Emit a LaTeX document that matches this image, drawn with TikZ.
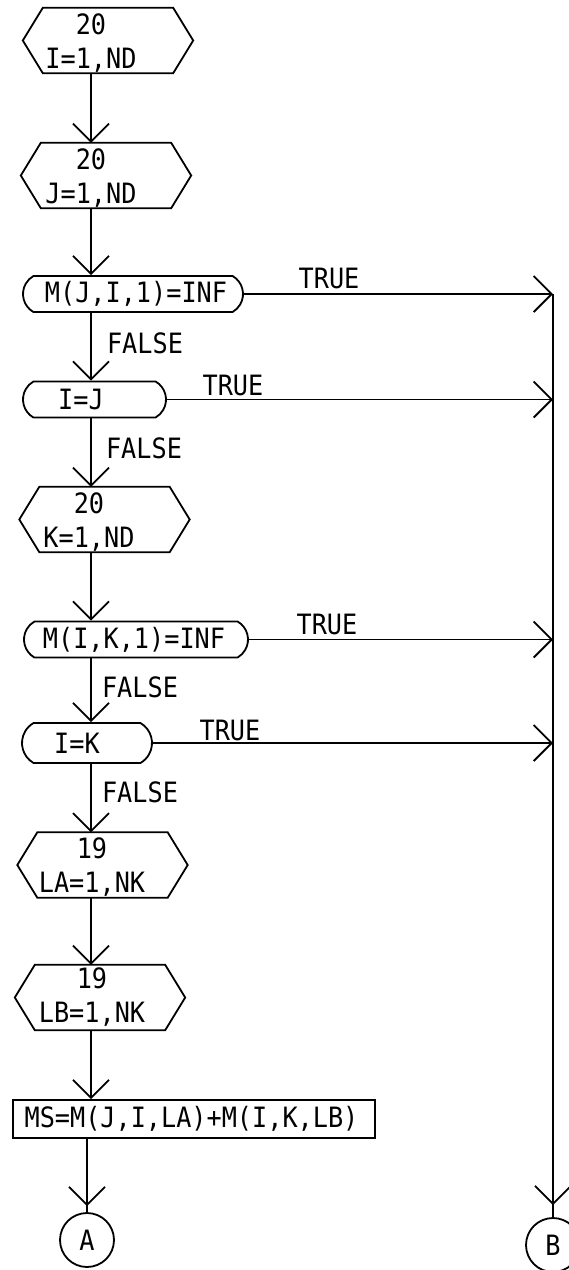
\documentclass[tikz,border=0pt]{standalone}
\usepackage{fontspec}
\newfontfamily\flowfont[FakeStretch=0.9]{DejaVu Sans Mono}
\usetikzlibrary{arrows.meta,shapes.misc}
\tikzset{
  flow/.style={line width=1.8pt, line join=miter},
  arr/.style={flow, -{Straight Barb[length=18pt,width=36pt]}},
  txt/.style={font=\flowfont\fontsize{28}{34}\selectfont, inner sep=0pt, align=center},
  hexbox/.style={minimum width=170pt, minimum height=65pt, inner sep=0pt},
  decbox/.style={flow, draw, rounded rectangle, rounded rectangle arc length=120,
                 minimum height=36pt, inner sep=0pt},
  procbox/.style={flow, draw, rectangle, minimum height=38pt, inner sep=0pt},
  connbox/.style={flow, draw, circle, minimum size=54pt, inner sep=0pt,
                  font=\flowfont\fontsize{28}{34}\selectfont},
}
\begin{document}
\begin{tikzpicture}[x=1pt,y=-1pt]
\useasboundingbox (0,0) rectangle (569,1270);
\fill[white] (0,0) rectangle (569,1270);

% flow axis and the right-hand return column
\coordinate (ax) at (91,0);
\coordinate (col) at (553,0);

% loop headers (hexagons)
\node[hexbox] (h1) at (108,40.5) {};
\node[txt] (h1t) at (91,43) {20\\I=1,ND};
\node[hexbox] (h2) at (106,175.5) {};
\node[txt] (h2t) at (91,178) {20\\J=1,ND};
\node[hexbox] (h3) at (104.5,519.5) {};
\node[txt] (h3t) at (89,522) {20\\K=1,ND};
\node[hexbox] (h5) at (102.5,865) {};
\node[txt] (h5t) at (92,867) {19\\LA=1,NK};
\node[hexbox] (h6) at (100,997.5) {};
\node[txt] (h6t) at (92,997) {19\\LB=1,NK};
\foreach \h in {h1,h2,h3,h5,h6}
  \draw[flow] (\h.west) -- ([xshift=20pt]\h.north west) -- ([xshift=-20pt]\h.north east)
    -- (\h.east) -- ([xshift=-20pt]\h.south east) -- ([xshift=20pt]\h.south west) -- cycle;

% decisions
\node[decbox, minimum width=220pt] (d1) at (133,294) {};
\node[txt] (d1t) at (136,294) {M(J,I,1)=INF};
\node[decbox, minimum width=143pt] (d2) at (94.5,399.5) {};
\node[txt] (d2t) at (81,399.5) {I=J};
\node[decbox, minimum width=224pt] (d3) at (136,639.5) {};
\node[txt] (d3t) at (134,639.5) {M(I,K,1)=INF};
\node[decbox, minimum width=130pt, minimum height=40pt] (d4) at (87,743) {};
\node[txt] (d4t) at (77,743) {I=K};

% process box
\node[procbox, minimum width=362pt] (ms) at (194,1119) {};
\node[txt] (mst) at (191.5,1119) {MS=M(J,I,LA)+M(I,K,LB)};

% off-page connectors
\node[connbox] (A) at (87,1240) {A};
\node[connbox] (B) at (553,1245) {B};

% main flow
\draw[arr] (h1.south -| ax) -- (h2.north -| ax);
\draw[arr] (h2.south -| ax) -- (d1.north -| ax);
\draw[arr] (d1.south -| ax) -- (d2.north -| ax);
\draw[arr] (d2.south -| ax) -- (h3.north -| ax);
\draw[arr] (h3.south -| ax) -- (d3.north -| ax);
\draw[arr] (d3.south -| ax) -- (d4.north -| ax);
\draw[arr] (d4.south -| ax) -- (h5.north -| ax);
\draw[arr] (h5.south -| ax) -- (h6.north -| ax);
\draw[arr] (h6.south -| ax) -- (ms.north -| ax);
\draw[flow] (ms.south -| A) -- (A.north);
\draw[arr] (ms.south -| A) -- ([yshift=6pt]A.north);

% TRUE branches to the return column
\draw[arr] (d1.east) -- (d1.east -| col);
\draw[arr] (d2.east) -- (d2.east -| col);
\draw[arr] (d3.east) -- (d3.east -| col);
\draw[arr] (d4.east) -- (d4.east -| col);
\draw[flow] (d1.east -| col) -- (B.north);
\draw[arr] (d1.east -| col) -- ([yshift=12pt]B.north);

% branch labels
\node[txt] (t1) at (329,278) {TRUE};
\node[txt] (t2) at (233,385) {TRUE};
\node[txt] (t3) at (327,624) {TRUE};
\node[txt] (t4) at (230,730) {TRUE};
\node[txt] (f1) at (145,343) {FALSE};
\node[txt] (f2) at (144,448) {FALSE};
\node[txt] (f3) at (140,687) {FALSE};
\node[txt] (f4) at (140,792) {FALSE};
\end{tikzpicture}
\end{document}
